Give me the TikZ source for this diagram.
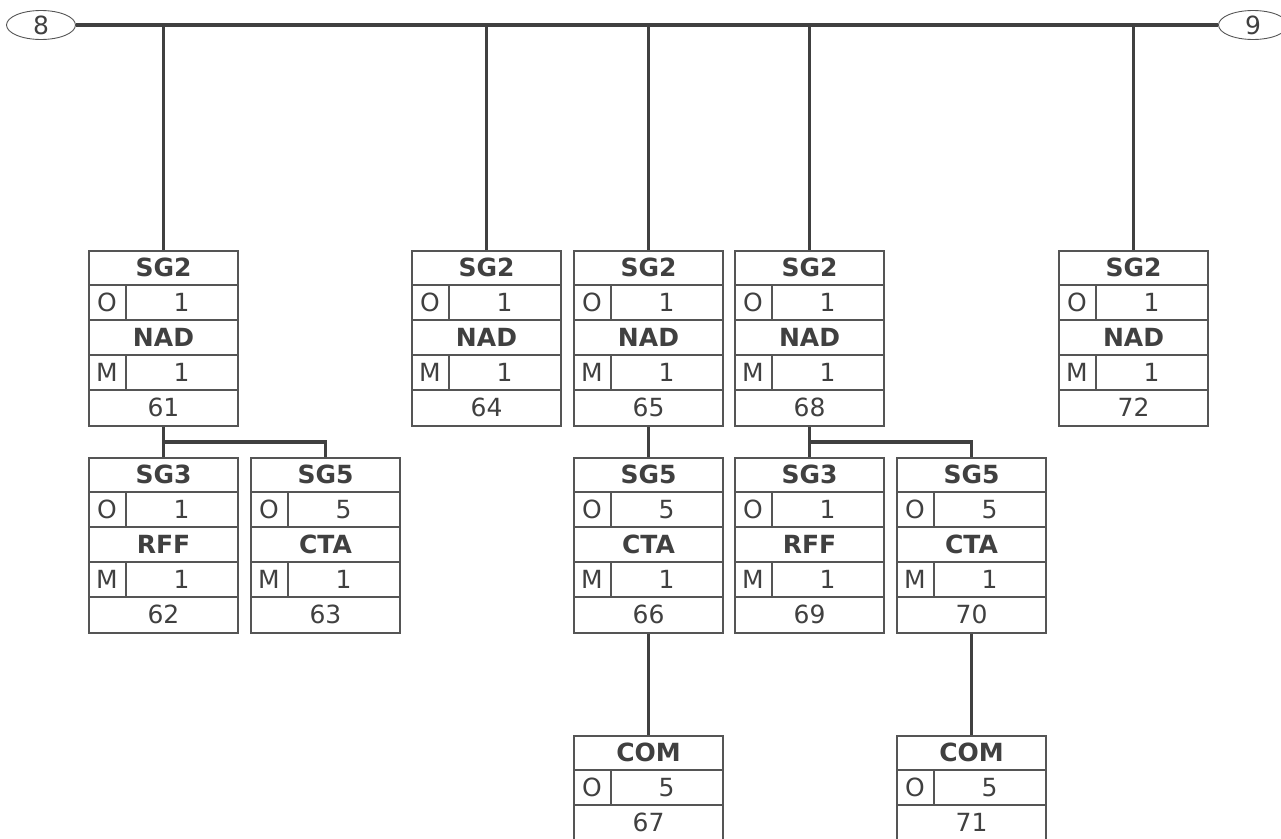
\documentclass[tikz,border=0pt]{standalone}
\usepackage{fontspec}
\setmainfont{DejaVu Sans}
\usetikzlibrary{shapes,calc}
\definecolor{ink}{HTML}{404040}
\definecolor{frame}{HTML}{555555}

\tikzset{
  seg/.style={draw=frame, line width=2pt, minimum width=149pt, inner sep=0pt, anchor=north west},
  rowline/.style={draw=frame, line width=2pt},
  cell/.style={text=ink, inner sep=0pt, font=\fontsize{25}{27}\selectfont},
  head/.style={cell, font=\fontsize{25}{27}\selectfont\bfseries},
  link/.style={draw=ink, line width=3.4pt},
  endmark/.style={ellipse, draw=frame, line width=0.9pt, minimum width=69pt, minimum height=29pt, inner sep=0pt, text=ink, font=\fontsize{25}{27}\selectfont}
}

% group box: name, position, group, status, repeat, segment, number
\newcommand{\grpbox}[7]{%
  \node[seg, minimum height=175pt] at (#2) (#1) {};
  \foreach \r in {35,70,105,140}
    \draw[rowline] ($(#1.north west)+(0,\r)$) -- ($(#1.north east)+(0,\r)$);
  \draw[rowline] ($(#1.north west)+(38,35)$) -- ++(0,35);
  \draw[rowline] ($(#1.north west)+(38,105)$) -- ++(0,35);
  \node[head] at ($(#1.north)+(0,17.5)$) (#1_GRP) {#3};
  \node[cell] at ($(#1.north west)+(19,52.5)$) (#1_ST) {#4};
  \node[cell] at ($(#1.north west)+(93.5,52.5)$) (#1_REP) {#5};
  \node[head] at ($(#1.north)+(0,87.5)$) (#1_SEG) {#6};
  \node[cell] at ($(#1.north west)+(19,122.5)$) (#1_SST) {M};
  \node[cell] at ($(#1.north west)+(93.5,122.5)$) (#1_SREP) {1};
  \node[cell] at ($(#1.north)+(0,157.5)$) (#1_NUM) {#7};
}

% segment box: name, position, segment, status, repeat, number
\newcommand{\segbox}[6]{%
  \node[seg, minimum height=105pt] at (#2) (#1) {};
  \foreach \r in {35,70}
    \draw[rowline] ($(#1.north west)+(0,\r)$) -- ($(#1.north east)+(0,\r)$);
  \draw[rowline] ($(#1.north west)+(38,35)$) -- ++(0,35);
  \node[head] at ($(#1.north)+(0,17.5)$) (#1_SEG) {#3};
  \node[cell] at ($(#1.north west)+(19,52.5)$) (#1_ST) {#4};
  \node[cell] at ($(#1.north west)+(93.5,52.5)$) (#1_REP) {#5};
  \node[cell] at ($(#1.north)+(0,87.5)$) (#1_NUM) {#6};
}

\begin{document}
\begin{tikzpicture}[x=1pt, y=-1pt]
\useasboundingbox (0,0) rectangle (1281,838);

\node[endmark] at (41,25) (END8) {8};
\node[endmark] at (1253,25) (END9) {9};
\draw[link] (END8) -- (END9);

\grpbox{NAD61}{88,250}{SG2}{O}{1}{NAD}{61}
\grpbox{NAD64}{411,250}{SG2}{O}{1}{NAD}{64}
\grpbox{NAD65}{573,250}{SG2}{O}{1}{NAD}{65}
\grpbox{NAD68}{734,250}{SG2}{O}{1}{NAD}{68}
\grpbox{NAD72}{1058,250}{SG2}{O}{1}{NAD}{72}

\grpbox{RFF62}{88,457}{SG3}{O}{1}{RFF}{62}
\grpbox{CTA63}{250,457}{SG5}{O}{5}{CTA}{63}
\grpbox{CTA66}{573,457}{SG5}{O}{5}{CTA}{66}
\grpbox{RFF69}{734,457}{SG3}{O}{1}{RFF}{69}
\grpbox{CTA70}{896,457}{SG5}{O}{5}{CTA}{70}

\segbox{COM67}{573,735}{COM}{O}{5}{67}
\segbox{COM71}{896,735}{COM}{O}{5}{71}

\foreach \b in {NAD61,NAD64,NAD65,NAD68,NAD72}
  \draw[link] (\b.north) -- (\b.north |- END8.east);

\draw[link] (NAD61.south) -- (RFF62.north);
\draw[link] ($(NAD61.south)!0.5!(RFF62.north)$) -| (CTA63.north);
\draw[link] (NAD65.south) -- (CTA66.north);
\draw[link] (CTA66.south) -- (COM67.north);
\draw[link] (NAD68.south) -- (RFF69.north);
\draw[link] ($(NAD68.south)!0.5!(RFF69.north)$) -| (CTA70.north);
\draw[link] (CTA70.south) -- (COM71.north);
\end{tikzpicture}
\end{document}
